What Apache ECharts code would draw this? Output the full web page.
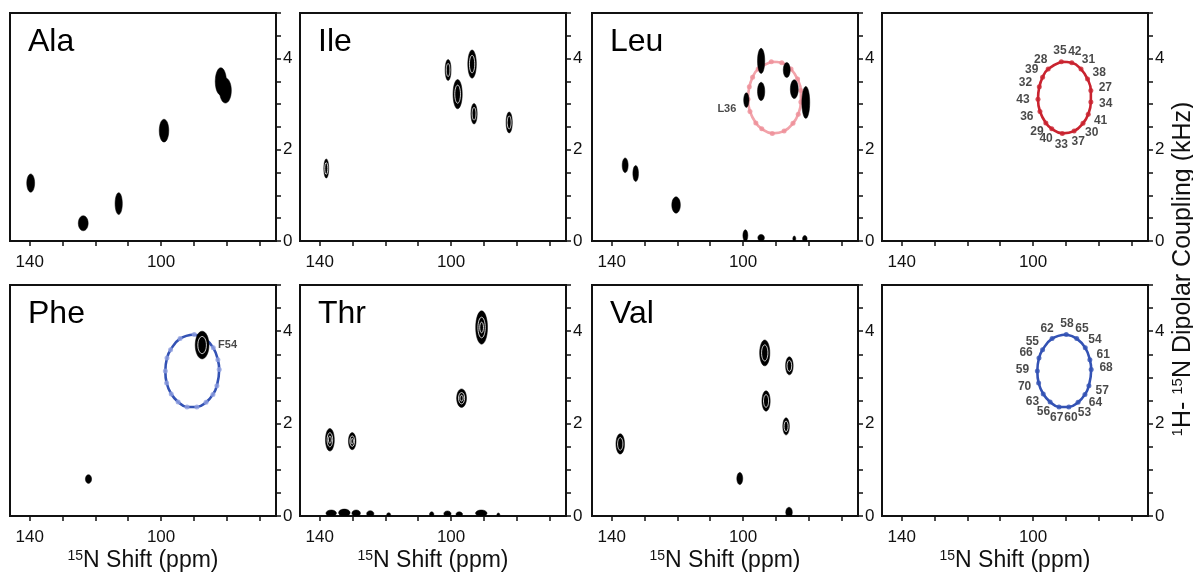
<!DOCTYPE html>
<html>
<head>
<meta charset="utf-8">
<style>
  html, body { margin: 0; padding: 0; background: #fff; }
  #chart { width: 1193px; height: 573px; }
</style>
<script src="https://cdn.jsdelivr.net/npm/echarts@6.0.0/dist/echarts.min.js"></script>
</head>
<body>
<div id="chart"></div>
<script>
// panel names, row by row
const panelNames = ['Ala', 'Ile', 'Leu', '', 'Phe', 'Thr', 'Val', ''];

// axis ticks / labels
const shiftTicks = [70, 80, 90, 100, 110, 120, 130, 140];
const shiftLabels = [100, 140];
const couplingLabels = [0, 2, 4];

// peaks: [15N shift ppm, coupling kHz, width ppm, height kHz]
const alaPeaks = [
  [139.7, 1.27, 2.4, 0.40], [123.7, 0.39, 3.0, 0.33], [112.9, 0.82, 2.2, 0.48],
  [99.1, 2.42, 2.9, 0.50], [81.8, 3.50, 3.4, 0.60], [80.4, 3.30, 3.6, 0.55]
];
const ilePeaks = [
  [138.0, 1.59, 1.5, 0.42], [100.9, 3.75, 1.8, 0.46], [98.0, 3.22, 2.8, 0.64],
  [93.6, 3.88, 2.6, 0.62], [93.0, 2.79, 1.9, 0.45], [82.3, 2.60, 1.9, 0.46]
];
const leuPeaks = [
  [135.9, 1.66, 1.8, 0.32], [132.7, 1.48, 1.7, 0.35], [120.4, 0.79, 2.6, 0.36],
  [94.5, 3.95, 2.2, 0.55], [94.5, 3.28, 2.2, 0.40], [99.0, 3.09, 1.6, 0.32],
  [86.7, 3.75, 2.1, 0.33], [84.4, 3.33, 2.4, 0.41], [80.9, 3.04, 2.4, 0.70],
  [99.3, 0.12, 1.5, 0.25], [94.5, 0.07, 2.0, 0.15], [84.4, 0.05, 0.9, 0.12],
  [81.2, 0.05, 1.4, 0.14]
];
const phePeaks = [
  [122.1, 0.80, 1.9, 0.19], [87.5, 3.70, 4.2, 0.60]
];
const thrPeaks = [
  [136.9, 1.65, 2.7, 0.49], [130.1, 1.62, 2.3, 0.37], [96.8, 2.55, 3.0, 0.40],
  [90.7, 4.08, 3.6, 0.72],
  [136.5, 0.06, 3.2, 0.14], [132.5, 0.07, 3.5, 0.16], [128.9, 0.06, 2.6, 0.14],
  [124.6, 0.05, 2.2, 0.13], [119.0, 0.03, 1.2, 0.08], [105.9, 0.04, 1.3, 0.10],
  [101.1, 0.05, 2.2, 0.12], [97.5, 0.04, 2.0, 0.10], [90.8, 0.06, 3.5, 0.14],
  [85.6, 0.03, 0.9, 0.07]
];
const valPeaks = [
  [137.4, 1.56, 2.6, 0.44], [101.0, 0.81, 1.8, 0.26], [93.4, 3.53, 3.1, 0.56],
  [93.0, 2.49, 2.5, 0.44], [85.9, 3.25, 2.3, 0.39], [86.9, 1.94, 2.0, 0.37],
  [86.0, 0.08, 2.0, 0.22]
];

// assigned peaks
const leuAssigned = ['L36', 99.0, 3.09];
const pheAssigned = ['F54', 87.5, 3.70];

// PISA wheel, residues 27-43 (in wheel order)
const wheelAResidues = [35, 42, 31, 38, 27, 34, 41, 30, 37, 33, 40, 29, 36, 43, 32, 39, 28];
const wheelAShift = [91.4, 88.2, 85.4, 83.4, 82.4, 82.4, 83.2, 84.8, 87.5, 91.1, 94.3, 96.1, 97.9, 98.5, 98.1, 97.1, 95.4];
const wheelACoupling = [3.93, 3.91, 3.77, 3.55, 3.30, 3.05, 2.78, 2.58, 2.41, 2.36, 2.46, 2.59, 2.84, 3.11, 3.38, 3.59, 3.77];

// PISA wheel, residues 53-70 (in wheel order)
const wheelBResidues = [58, 65, 54, 61, 68, 57, 64, 53, 60, 67, 56, 63, 70, 59, 66, 55, 62];
const wheelBShift = [89.9, 86.7, 84.1, 82.7, 82.3, 83.0, 84.2, 86.3, 89.1, 92.1, 94.8, 96.9, 98.3, 98.7, 98.2, 97.1, 94.2];
const wheelBCoupling = [3.93, 3.84, 3.64, 3.38, 3.17, 2.82, 2.63, 2.46, 2.36, 2.36, 2.47, 2.64, 2.88, 3.14, 3.42, 3.60, 3.84];

// layout
const colLeft = [10, 300, 592, 882];
const rowTop = [13, 285];
const rowHeight = [228, 231];
const panelWidth = 266;
const shiftMin = 65, shiftMax = 146;
const font = 'Liberation Sans';
const ink = '#111';

const chart = echarts.init(document.getElementById('chart'), null, { renderer: 'canvas' });

const grids = [], xAxes = [], yAxes = [], titles = [], series = [];

for (let i = 0; i < 8; i++) {
  const row = Math.floor(i / 4), col = i % 4;
  grids.push({
    left: colLeft[col], top: rowTop[row], width: panelWidth, height: rowHeight[row],
    show: true, borderColor: ink, borderWidth: 2
  });
  xAxes.push({
    gridIndex: i, type: 'value', min: shiftMin, max: shiftMax, inverse: true, position: 'bottom',
    axisLine: { show: true, onZero: false, lineStyle: { color: ink, width: 2 } },
    axisTick: { show: true, length: 5, customValues: shiftTicks, lineStyle: { color: ink, width: 1.5 } },
    axisLabel: { customValues: shiftLabels, margin: 13, color: ink, fontSize: 17, fontFamily: font },
    splitLine: { show: false },
    name: row === 1 ? '{sup|15}N Shift (ppm)' : '',
    nameLocation: 'middle', nameGap: 33,
    nameTextStyle: {
      fontSize: 23, color: ink, fontFamily: font,
      rich: { sup: { fontSize: 14, verticalAlign: 'top', color: ink, fontFamily: font } }
    }
  });
  yAxes.push({
    gridIndex: i, type: 'value', min: 0, max: 5, interval: 0.5, position: 'right',
    axisLine: { show: true, onZero: false, lineStyle: { color: ink, width: 2 } },
    axisTick: { show: true, length: 5, lineStyle: { color: ink, width: 1.5 } },
    axisLabel: { customValues: couplingLabels, margin: 7, color: ink, fontSize: 17, fontFamily: font },
    splitLine: { show: false }
  });
  if (panelNames[i]) {
    titles.push({
      text: panelNames[i], left: colLeft[col] + 18, top: rowTop[row] + 13, padding: 0,
      textStyle: { fontSize: 32, fontWeight: 'normal', color: '#000', fontFamily: font }
    });
  }
}

// px per unit, used only to push wheel labels outward
const pxPerPpm = panelWidth / (shiftMax - shiftMin);
const pxPerKhz = rowHeight[0] / 5;

function wheel(idx, shifts, couplings, residues, lineColor, dotColor, withLabels) {
  const pts = shifts.map((s, k) => [s, couplings[k]]);
  const cx = shifts.reduce((a, b) => a + b, 0) / shifts.length;
  const cy = couplings.reduce((a, b) => a + b, 0) / couplings.length;
  series.push({
    type: 'line', xAxisIndex: idx, yAxisIndex: idx, data: pts.concat([pts[0]]),
    smooth: 0.45, showSymbol: false, silent: true, z: 2,
    lineStyle: { color: lineColor, width: 2.6 }
  });
  series.push({
    type: 'scatter', xAxisIndex: idx, yAxisIndex: idx, silent: true, z: 3,
    symbolSize: 5, itemStyle: { color: dotColor },
    data: pts.map((p, k) => {
      const dx = -(p[0] - cx) * pxPerPpm, dy = -(p[1] - cy) * pxPerKhz;
      const n = Math.hypot(dx, dy) || 1;
      return {
        name: String(residues[k]), value: p,
        label: { offset: [dx / n * 15, dy / n * 11] }
      };
    }),
    label: {
      show: withLabels, position: 'inside', formatter: '{b}',
      fontSize: 12, fontWeight: 'bold', color: '#1a1a1a', fontFamily: font
    }
  });
}

function peaks(idx, data, rings) {
  series.push({
    type: 'custom', xAxisIndex: idx, yAxisIndex: idx, data: data, z: 4, clip: true, silent: true,
    renderItem(params, api) {
      const c = api.coord([api.value(0), api.value(1)]);
      const s = api.size([api.value(2), api.value(3)], [api.value(0), api.value(1)]);
      const rx = s[0] / 2, ry = s[1] / 2;
      const children = [{
        type: 'ellipse', shape: { cx: c[0], cy: c[1], rx: rx, ry: ry },
        style: { fill: '#000', stroke: '#000', lineWidth: 0.5 }
      }];
      if (rings > 0 && ry > 7) {
        for (let r = 0; r < rings; r++) {
          const f = 0.62 - r * 0.3;
          children.push({
            type: 'ellipse', shape: { cx: c[0], cy: c[1], rx: rx * f, ry: ry * f },
            style: { fill: 'none', stroke: '#fff', lineWidth: 0.8 }
          });
        }
      }
      return { type: 'group', children: children };
    }
  });
}

function tag(idx, item, position, offset) {
  series.push({
    type: 'scatter', xAxisIndex: idx, yAxisIndex: idx, z: 5, silent: true,
    symbolSize: 0, data: [{ name: item[0], value: [item[1], item[2]] }],
    label: {
      show: true, position: position, distance: 10, offset: offset, formatter: '{b}',
      fontSize: 11, fontWeight: 'bold', color: '#1a1a1a', fontFamily: font
    }
  });
}

// wheels first so peaks sit on top
wheel(2, wheelAShift, wheelACoupling, wheelAResidues, '#f2a3aa', '#ee8f99', false);
wheel(3, wheelAShift, wheelACoupling, wheelAResidues, '#c9232f', '#c9232f', true);
wheel(4, wheelBShift, wheelBCoupling, wheelBResidues, '#3352b4', '#8e9fe0', false);
wheel(7, wheelBShift, wheelBCoupling, wheelBResidues, '#3352b4', '#3352b4', true);

peaks(0, alaPeaks, 0);
peaks(1, ilePeaks, 1);
peaks(2, leuPeaks, 0);
peaks(4, phePeaks, 1);
peaks(5, thrPeaks, 2);
peaks(6, valPeaks, 1);

tag(2, leuAssigned, 'left', [0, 9]);
tag(4, pheAssigned, 'right', [6, 0]);

chart.setOption({
  animation: false,
  backgroundColor: '#fff',
  title: titles,
  grid: grids,
  xAxis: xAxes,
  yAxis: yAxes,
  series: series,
  graphic: [{
    type: 'text', x: 1183, y: 269, rotation: Math.PI / 2,
    style: {
      text: '{sup|1}H- {sup|15}N Dipolar Coupling (kHz)',
      fill: ink, font: '25px "Liberation Sans"',
      align: 'center', verticalAlign: 'middle',
      textAlign: 'center', textVerticalAlign: 'middle',
      rich: { sup: { fontSize: 15, verticalAlign: 'top', fill: ink, fontFamily: font } }
    }
  }]
});
</script>
</body>
</html>
